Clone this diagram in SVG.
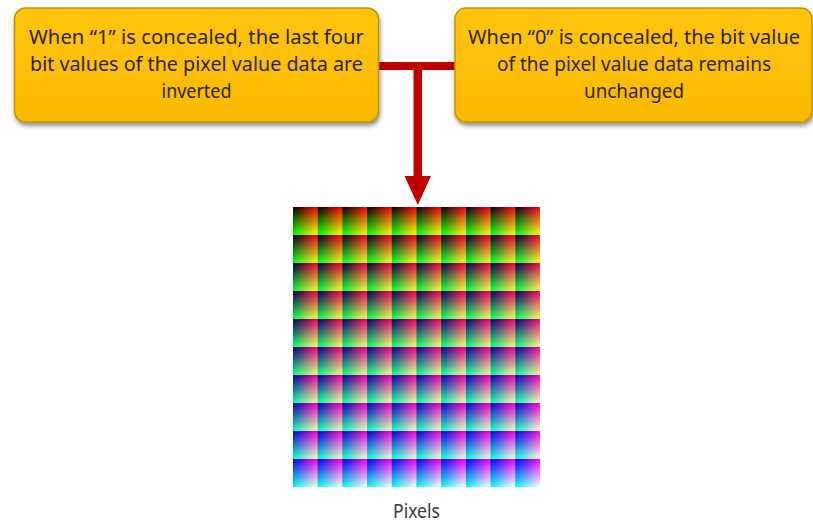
<svg xmlns="http://www.w3.org/2000/svg" width="813" height="524" viewBox="0 0 813 524">
<style>
.box{fill:url(#gold);stroke:#C39500;stroke-width:1.5;filter:url(#sh)}
.t{font-family:"Noto Sans","Open Sans","Liberation Sans",sans-serif;font-size:19.5px;fill:#2e2500;text-anchor:middle}
.lbl{font-family:"Noto Sans","Open Sans","Liberation Sans",sans-serif;font-size:20px;fill:#3a3a3a;text-anchor:middle}
.con{fill:#C00000}
.scr{mix-blend-mode:screen}
</style>
<defs>
<linearGradient id="gold" x1="0" y1="0" x2="0" y2="1"><stop offset="0" stop-color="#FFC510"/><stop offset="1" stop-color="#F9B900"/></linearGradient>
<filter id="sh" x="-10%" y="-10%" width="120%" height="130%"><feDropShadow dx="1" dy="3" stdDeviation="2" flood-color="#000" flood-opacity="0.45"/></filter>
<linearGradient id="gr" x1="0" y1="0" x2="1" y2="0"><stop offset="0" stop-color="#000"/><stop offset="1" stop-color="#f00"/></linearGradient>
<linearGradient id="gg" x1="0" y1="0" x2="0" y2="1"><stop offset="0" stop-color="#000"/><stop offset="1" stop-color="#0f0"/></linearGradient>
<pattern id="pr" patternUnits="userSpaceOnUse" x="293" y="207" width="24.7" height="28"><rect width="24.7" height="28" fill="url(#gr)"/></pattern>
<pattern id="pg" patternUnits="userSpaceOnUse" x="293" y="207" width="24.7" height="28"><rect width="24.7" height="28" fill="url(#gg)"/></pattern>
</defs>
<rect width="813" height="524" fill="#fff"/>
<g id="connectors">
<rect class="con" x="376" y="62" width="81" height="8"/>
<rect class="con" x="413.5" y="66" width="8.5" height="112"/>
<polygon class="con" points="404.5,176 431,176 417.8,205"/>
</g>
<g id="node-left">
<rect class="box" x="14.5" y="8" width="364" height="114" rx="11"/>
<text class="t" x="196.5" y="44" textLength="335" lengthAdjust="spacingAndGlyphs">When “1” is concealed, the last four</text>
<text class="t" x="196.5" y="71" textLength="333" lengthAdjust="spacingAndGlyphs">bit values of the pixel value data are</text>
<text class="t" x="196.5" y="98" textLength="70" lengthAdjust="spacingAndGlyphs">inverted</text>
</g>
<g id="node-right">
<rect class="box" x="455" y="8" width="357" height="114" rx="11"/>
<text class="t" x="634" y="44" textLength="332" lengthAdjust="spacingAndGlyphs">When “0” is concealed, the bit value</text>
<text class="t" x="634" y="71" textLength="274" lengthAdjust="spacingAndGlyphs">of the pixel value data remains</text>
<text class="t" x="634" y="98" textLength="100" lengthAdjust="spacingAndGlyphs">unchanged</text>
</g>
<g id="node-pixels">
<g style="isolation:isolate">
<g transform="translate(0,207)">
<rect x="293" width="24.7" height="28" fill="rgb(0,0,0)"/><rect x="317.7" width="24.7" height="28" fill="rgb(0,0,3)"/><rect x="342.4" width="24.7" height="28" fill="rgb(0,0,5)"/><rect x="367.1" width="24.7" height="28" fill="rgb(0,0,8)"/><rect x="391.8" width="24.7" height="28" fill="rgb(0,0,10)"/><rect x="416.5" width="24.7" height="28" fill="rgb(0,0,13)"/><rect x="441.2" width="24.7" height="28" fill="rgb(0,0,15)"/><rect x="465.9" width="24.7" height="28" fill="rgb(0,0,18)"/><rect x="490.6" width="24.7" height="28" fill="rgb(0,0,21)"/><rect x="515.3" width="24.7" height="28" fill="rgb(0,0,23)"/>
</g>
<g transform="translate(0,235)">
<rect x="293" width="24.7" height="28" fill="rgb(0,0,26)"/><rect x="317.7" width="24.7" height="28" fill="rgb(0,0,28)"/><rect x="342.4" width="24.7" height="28" fill="rgb(0,0,31)"/><rect x="367.1" width="24.7" height="28" fill="rgb(0,0,33)"/><rect x="391.8" width="24.7" height="28" fill="rgb(0,0,36)"/><rect x="416.5" width="24.7" height="28" fill="rgb(0,0,39)"/><rect x="441.2" width="24.7" height="28" fill="rgb(0,0,41)"/><rect x="465.9" width="24.7" height="28" fill="rgb(0,0,44)"/><rect x="490.6" width="24.7" height="28" fill="rgb(0,0,46)"/><rect x="515.3" width="24.7" height="28" fill="rgb(0,0,49)"/>
</g>
<g transform="translate(0,263)">
<rect x="293" width="24.7" height="28" fill="rgb(0,0,52)"/><rect x="317.7" width="24.7" height="28" fill="rgb(0,0,54)"/><rect x="342.4" width="24.7" height="28" fill="rgb(0,0,57)"/><rect x="367.1" width="24.7" height="28" fill="rgb(0,0,59)"/><rect x="391.8" width="24.7" height="28" fill="rgb(0,0,62)"/><rect x="416.5" width="24.7" height="28" fill="rgb(0,0,64)"/><rect x="441.2" width="24.7" height="28" fill="rgb(0,0,67)"/><rect x="465.9" width="24.7" height="28" fill="rgb(0,0,70)"/><rect x="490.6" width="24.7" height="28" fill="rgb(0,0,72)"/><rect x="515.3" width="24.7" height="28" fill="rgb(0,0,75)"/>
</g>
<g transform="translate(0,291)">
<rect x="293" width="24.7" height="28" fill="rgb(0,0,77)"/><rect x="317.7" width="24.7" height="28" fill="rgb(0,0,80)"/><rect x="342.4" width="24.7" height="28" fill="rgb(0,0,82)"/><rect x="367.1" width="24.7" height="28" fill="rgb(0,0,85)"/><rect x="391.8" width="24.7" height="28" fill="rgb(0,0,88)"/><rect x="416.5" width="24.7" height="28" fill="rgb(0,0,90)"/><rect x="441.2" width="24.7" height="28" fill="rgb(0,0,93)"/><rect x="465.9" width="24.7" height="28" fill="rgb(0,0,95)"/><rect x="490.6" width="24.7" height="28" fill="rgb(0,0,98)"/><rect x="515.3" width="24.7" height="28" fill="rgb(0,0,100)"/>
</g>
<g transform="translate(0,319)">
<rect x="293" width="24.7" height="28" fill="rgb(0,0,103)"/><rect x="317.7" width="24.7" height="28" fill="rgb(0,0,106)"/><rect x="342.4" width="24.7" height="28" fill="rgb(0,0,108)"/><rect x="367.1" width="24.7" height="28" fill="rgb(0,0,111)"/><rect x="391.8" width="24.7" height="28" fill="rgb(0,0,113)"/><rect x="416.5" width="24.7" height="28" fill="rgb(0,0,116)"/><rect x="441.2" width="24.7" height="28" fill="rgb(0,0,118)"/><rect x="465.9" width="24.7" height="28" fill="rgb(0,0,121)"/><rect x="490.6" width="24.7" height="28" fill="rgb(0,0,124)"/><rect x="515.3" width="24.7" height="28" fill="rgb(0,0,126)"/>
</g>
<g transform="translate(0,347)">
<rect x="293" width="24.7" height="28" fill="rgb(0,0,129)"/><rect x="317.7" width="24.7" height="28" fill="rgb(0,0,131)"/><rect x="342.4" width="24.7" height="28" fill="rgb(0,0,134)"/><rect x="367.1" width="24.7" height="28" fill="rgb(0,0,137)"/><rect x="391.8" width="24.7" height="28" fill="rgb(0,0,139)"/><rect x="416.5" width="24.7" height="28" fill="rgb(0,0,142)"/><rect x="441.2" width="24.7" height="28" fill="rgb(0,0,144)"/><rect x="465.9" width="24.7" height="28" fill="rgb(0,0,147)"/><rect x="490.6" width="24.7" height="28" fill="rgb(0,0,149)"/><rect x="515.3" width="24.7" height="28" fill="rgb(0,0,152)"/>
</g>
<g transform="translate(0,375)">
<rect x="293" width="24.7" height="28" fill="rgb(0,0,155)"/><rect x="317.7" width="24.7" height="28" fill="rgb(0,0,157)"/><rect x="342.4" width="24.7" height="28" fill="rgb(0,0,160)"/><rect x="367.1" width="24.7" height="28" fill="rgb(0,0,162)"/><rect x="391.8" width="24.7" height="28" fill="rgb(0,0,165)"/><rect x="416.5" width="24.7" height="28" fill="rgb(0,0,167)"/><rect x="441.2" width="24.7" height="28" fill="rgb(0,0,170)"/><rect x="465.9" width="24.7" height="28" fill="rgb(0,0,173)"/><rect x="490.6" width="24.7" height="28" fill="rgb(0,0,175)"/><rect x="515.3" width="24.7" height="28" fill="rgb(0,0,178)"/>
</g>
<g transform="translate(0,403)">
<rect x="293" width="24.7" height="28" fill="rgb(0,0,180)"/><rect x="317.7" width="24.7" height="28" fill="rgb(0,0,183)"/><rect x="342.4" width="24.7" height="28" fill="rgb(0,0,185)"/><rect x="367.1" width="24.7" height="28" fill="rgb(0,0,188)"/><rect x="391.8" width="24.7" height="28" fill="rgb(0,0,191)"/><rect x="416.5" width="24.7" height="28" fill="rgb(0,0,193)"/><rect x="441.2" width="24.7" height="28" fill="rgb(0,0,196)"/><rect x="465.9" width="24.7" height="28" fill="rgb(0,0,198)"/><rect x="490.6" width="24.7" height="28" fill="rgb(0,0,201)"/><rect x="515.3" width="24.7" height="28" fill="rgb(0,0,203)"/>
</g>
<g transform="translate(0,431)">
<rect x="293" width="24.7" height="28" fill="rgb(0,0,206)"/><rect x="317.7" width="24.7" height="28" fill="rgb(0,0,209)"/><rect x="342.4" width="24.7" height="28" fill="rgb(0,0,211)"/><rect x="367.1" width="24.7" height="28" fill="rgb(0,0,214)"/><rect x="391.8" width="24.7" height="28" fill="rgb(0,0,216)"/><rect x="416.5" width="24.7" height="28" fill="rgb(0,0,219)"/><rect x="441.2" width="24.7" height="28" fill="rgb(0,0,222)"/><rect x="465.9" width="24.7" height="28" fill="rgb(0,0,224)"/><rect x="490.6" width="24.7" height="28" fill="rgb(0,0,227)"/><rect x="515.3" width="24.7" height="28" fill="rgb(0,0,229)"/>
</g>
<g transform="translate(0,459)">
<rect x="293" width="24.7" height="28" fill="rgb(0,0,232)"/><rect x="317.7" width="24.7" height="28" fill="rgb(0,0,234)"/><rect x="342.4" width="24.7" height="28" fill="rgb(0,0,237)"/><rect x="367.1" width="24.7" height="28" fill="rgb(0,0,240)"/><rect x="391.8" width="24.7" height="28" fill="rgb(0,0,242)"/><rect x="416.5" width="24.7" height="28" fill="rgb(0,0,245)"/><rect x="441.2" width="24.7" height="28" fill="rgb(0,0,247)"/><rect x="465.9" width="24.7" height="28" fill="rgb(0,0,250)"/><rect x="490.6" width="24.7" height="28" fill="rgb(0,0,252)"/><rect x="515.3" width="24.7" height="28" fill="rgb(0,0,255)"/>
</g>
<rect class="scr" x="293" y="207" width="247" height="280" fill="url(#pr)"/>
<rect class="scr" x="293" y="207" width="247" height="280" fill="url(#pg)"/>
</g>
<text class="lbl" x="416.5" y="518" textLength="47" lengthAdjust="spacingAndGlyphs">Pixels</text>
</g>
</svg>
